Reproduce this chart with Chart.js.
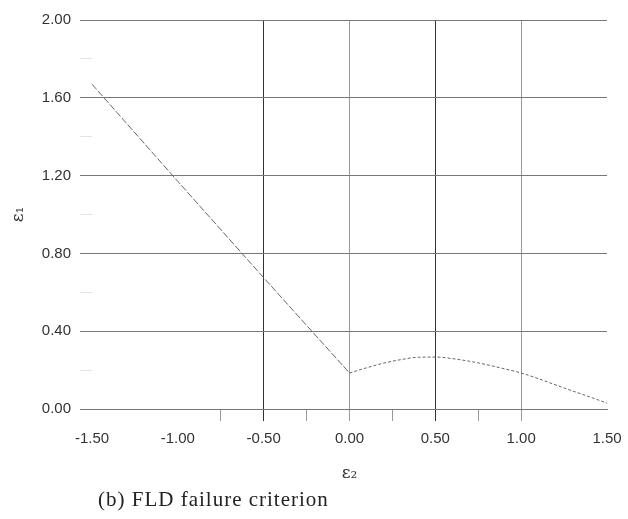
<!DOCTYPE html>
<html>
<head>
<meta charset="utf-8">
<script src="https://cdn.jsdelivr.net/npm/chart.js@4/dist/chart.umd.min.js"></script>
<style>
  html, body { margin: 0; padding: 0; background: #fff; }
  #wrap { position: relative; width: 628px; height: 519px; }
  #caption { position: absolute; left: 98px; top: 487px; font-family: "Liberation Serif", "DejaVu Serif", serif; font-size: 21px; letter-spacing: 1px; color: #222; line-height: 24px; }
</style>
</head>
<body>
<div id="wrap">
  <canvas id="c" width="628" height="519"></canvas>
  <div id="caption">(b) FLD failure criterion</div>
</div>
<script>
// left branch (dashed straight line)
const leftX = [-1.5, -1.0, -0.5, 0.0];
const leftY = [1.67, 1.17, 0.675, 0.185];
// right branch (dotted curve)
const rightX = [0, 0.1, 0.2, 0.3, 0.4, 0.5, 0.6, 0.75, 0.9, 1.0, 1.1, 1.25, 1.4, 1.5];
const rightY = [0.185, 0.212, 0.236, 0.254, 0.266, 0.267, 0.259, 0.237, 0.207, 0.185, 0.156, 0.108, 0.062, 0.03];

const xLabels = [-1.5, -1.0, -0.5, 0.0, 0.5, 1.0, 1.5];
const yLabels = [0, 0.4, 0.8, 1.2, 1.6, 2.0];

const toPts = (xs, ys) => xs.map((x, i) => ({x: x, y: ys[i]}));
const near = (v, list) => list.some(t => Math.abs(t - v) < 1e-6);

const ctx = document.getElementById('c');
new Chart(ctx, {
  type: 'scatter',
  data: {
    datasets: [
      {
        data: toPts(leftX, leftY),
        showLine: true,
        borderColor: '#666',
        borderWidth: 1,
        borderDash: [7, 2],
        pointRadius: 0
      },
      {
        data: toPts(rightX, rightY),
        showLine: true,
        borderColor: '#666',
        borderWidth: 1,
        borderDash: [3, 2],
        cubicInterpolationMode: 'monotone',
        pointRadius: 0
      }
    ]
  },
  options: {
    responsive: false,
    animation: false,
    layout: { padding: { left: 0, right: 21, top: 20, bottom: 35 } },
    plugins: { legend: { display: false }, tooltip: { enabled: false } },
    scales: {
      x: {
        type: 'linear',
        min: -1.5,
        max: 1.5,
        afterFit: s => { s.height = 75; s.paddingRight = 0; s.paddingLeft = 0; },
        afterBuildTicks: s => {
          s.ticks = [];
          for (let v = -1.5; v <= 1.5001; v += 0.25) s.ticks.push({value: Math.round(v * 100) / 100});
        },
        ticks: {
          autoSkip: false,
          maxRotation: 0,
          padding: 9,
          color: '#333',
          font: { family: 'Liberation Sans, Arial, sans-serif', size: 15 },
          callback: v => near(v, xLabels) ? v.toFixed(2) : ''
        },
        grid: {
          tickLength: 12,
          color: c => {
            const v = c.tick ? c.tick.value : 0;
            if (near(v, [-0.5, 0.5])) return '#333';
            if (near(v, [0, 1.0])) return '#999';
            return 'transparent';
          },
          tickColor: c => {
            const v = c.tick ? c.tick.value : 0;
            if (near(v, [-1.5, -1.25, -1.0, 1.25, 1.5])) return 'transparent';
            if (near(v, [-0.5, 0.5])) return '#333';
            return '#999';
          }
        },
        border: { display: true, color: '#777' },
        title: {
          display: true,
          text: 'ε₂',
          color: '#333',
          padding: { top: 9, bottom: 0 },
          font: { family: 'DejaVu Serif, serif', size: 17 }
        }
      },
      y: {
        min: 0,
        max: 2,
        afterFit: s => { s.width = 92; },
        afterBuildTicks: s => {
          s.ticks = [];
          for (let v = 0; v <= 2.0001; v += 0.2) s.ticks.push({value: Math.round(v * 100) / 100});
        },
        ticks: {
          autoSkip: false,
          padding: 9,
          color: '#333',
          font: { family: 'Liberation Sans, Arial, sans-serif', size: 15 },
          callback: v => near(v, yLabels) ? v.toFixed(2) : ''
        },
        grid: {
          tickLength: 12,
          color: c => {
            const v = c.tick ? c.tick.value : 0;
            return near(v, yLabels) ? '#777' : 'transparent';
          },
          tickColor: c => {
            const v = c.tick ? c.tick.value : 0;
            return near(v, yLabels) ? '#777' : '#e4e4e4';
          }
        },
        border: { display: false },
        title: {
          display: true,
          text: 'ε₁',
          color: '#333',
          padding: { top: 8, bottom: 0 },
          font: { family: 'DejaVu Serif, serif', size: 17 }
        }
      }
    }
  }
});
</script>
</body>
</html>
